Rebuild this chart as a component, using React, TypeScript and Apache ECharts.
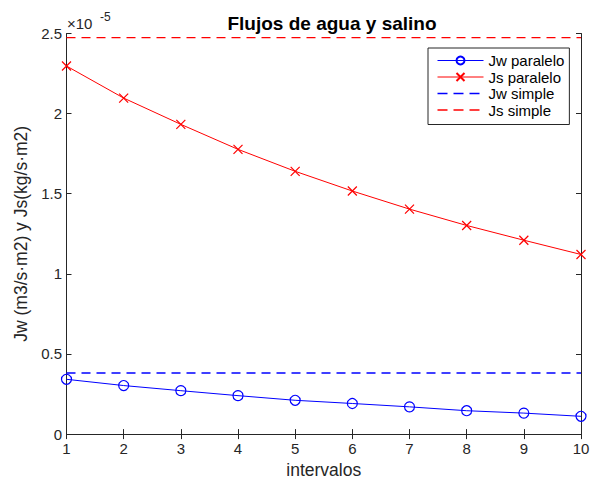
import React, { useEffect, useRef } from "react";
import * as echarts from "echarts";

const intervals = [1, 2, 3, 4, 5, 6, 7, 8, 9, 10];
const jwParalelo = [0.342, 0.303, 0.271, 0.240, 0.211, 0.191, 0.170, 0.146, 0.131, 0.111];
const jsParalelo = [2.297, 2.097, 1.933, 1.777, 1.640, 1.517, 1.404, 1.302, 1.210, 1.121];
const jwSimple = 0.381;
const jsSimple = 2.474;
const xRange = [1, 10];
const yTicks = [0, 0.5, 1, 1.5, 2, 2.5];

const FONT = "'Liberation Sans', Arial, Helvetica, sans-serif";
const AX = "#262626";
// dashed legend icon (bounding box 46x10 kept by the leading move-tos)
const DASH_ICON = "path://M0,0M46,10M0,4.3L10,4.3L10,5.7L0,5.7ZM16,4.3L26,4.3L26,5.7L16,5.7ZM32,4.3L42,4.3L42,5.7L32,5.7Z";

export default function App() {
  const ref = useRef<HTMLDivElement>(null);
  useEffect(() => {
    if (!ref.current) return;
    const chart = echarts.init(ref.current, undefined, { renderer: "svg" });
    const pair = (xs: number[], ys: number[]) => xs.map((x, i) => [x, ys[i]]);
    const axBase = {
      type: "value" as const,
      axisLine: { show: true, lineStyle: { color: AX, width: 1 } },
      axisTick: { show: true, inside: true, length: 5, lineStyle: { color: AX } },
      splitLine: { show: false },
    };
    chart.setOption({
      animation: false,
      textStyle: { fontFamily: FONT },
      title: {
        text: "Flujos de agua y salino",
        left: 327,
        textAlign: "center",
        top: 9,
        textStyle: { fontFamily: FONT, fontWeight: "bold", fontSize: 19, color: "#000" },
      },
      grid: { left: 66.5, right: 17, top: 33.5, bottom: 44 },
      legend: {
        orient: "vertical",
        left: 428,
        top: 48,
        padding: [5, 5, 7, 9],
        itemWidth: 46,
        itemHeight: 10,
        itemGap: 1.5,
        backgroundColor: "#fff",
        borderColor: AX,
        borderWidth: 1,
        borderRadius: 0,
        textStyle: { fontFamily: FONT, fontSize: 15, color: "#000", padding: [0, 0, 0, 0] },
        data: [
          { name: "Jw paralelo", lineStyle: { width: 1 } },
          { name: "Js paralelo", lineStyle: { width: 1 } },
          { name: "Jw simple", icon: DASH_ICON, itemStyle: { color: "#0000ff", borderWidth: 0 } },
          { name: "Js simple", icon: DASH_ICON, itemStyle: { color: "#ff0000", borderWidth: 0 } },
        ],
      },
      xAxis: [
        {
          ...axBase,
          min: xRange[0],
          max: xRange[1],
          interval: 1,
          position: "bottom",
          name: "intervalos",
          nameLocation: "middle",
          nameGap: 26,
          nameTextStyle: { fontFamily: FONT, fontSize: 17.5, color: AX },
          axisLabel: { fontFamily: FONT, fontSize: 15, color: AX, margin: 7 },
        },
        {
          ...axBase,
          min: xRange[0],
          max: xRange[1],
          interval: 1,
          position: "top",
          axisLabel: { show: false },
        },
      ],
      yAxis: [
        {
          ...axBase,
          min: yTicks[0],
          max: yTicks[yTicks.length - 1],
          interval: 0.5,
          position: "left",
          name: "Jw (m3/s·m2) y Js(kg/s·m2)",
          nameLocation: "middle",
          nameGap: 31,
          nameTextStyle: { fontFamily: FONT, fontSize: 17.5, color: AX },
          axisLabel: { fontFamily: FONT, fontSize: 15, color: AX, margin: 4.5, formatter: (v: number) => String(v) },
        },
        {
          ...axBase,
          min: yTicks[0],
          max: yTicks[yTicks.length - 1],
          interval: 0.5,
          position: "right",
          axisLabel: { show: false },
        },
      ],
      graphic: [
        { type: "text", left: 67, top: 16, style: { text: "×10", fontFamily: FONT, fontSize: 15, fill: AX } },
        { type: "text", left: 100, top: 11, style: { text: "-5", fontFamily: FONT, fontSize: 12, fill: AX } },
      ],
      series: [
        {
          name: "Jw paralelo",
          type: "line",
          data: pair(intervals, jwParalelo),
          symbol: "circle",
          symbolSize: 10,
          lineStyle: { color: "#0000ff", width: 1 },
          itemStyle: { color: "#ffffff00", borderColor: "#0000ff", borderWidth: 1.2 },
          color: "#0000ff",
          z: 3,
        },
        {
          name: "Js paralelo",
          type: "line",
          data: pair(intervals, jsParalelo),
          symbol: "path://M0,0L10,10M10,0L0,10",
          symbolSize: 9,
          lineStyle: { color: "#ff0000", width: 1 },
          itemStyle: { color: "none", borderColor: "#ff0000", borderWidth: 1.2 },
          color: "#ff0000",
          z: 3,
        },
        {
          name: "Jw simple",
          type: "line",
          data: [[xRange[0], jwSimple], [xRange[1], jwSimple]],
          symbol: "none",
          lineStyle: { color: "#0000ff", width: 1.4, type: [9, 6] },
          itemStyle: { color: "#0000ff" },
          color: "#0000ff",
        },
        {
          name: "Js simple",
          type: "line",
          data: [[xRange[0], jsSimple], [xRange[1], jsSimple]],
          symbol: "none",
          lineStyle: { color: "#ff0000", width: 1.4, type: [9, 6] },
          itemStyle: { color: "#ff0000" },
          color: "#ff0000",
        },
      ],
    });
    return () => chart.dispose();
  }, []);
  return <div ref={ref} style={{ width: 598, height: 484, position: "absolute", left: 0, top: 0, background: "#fff" }} />;
}
